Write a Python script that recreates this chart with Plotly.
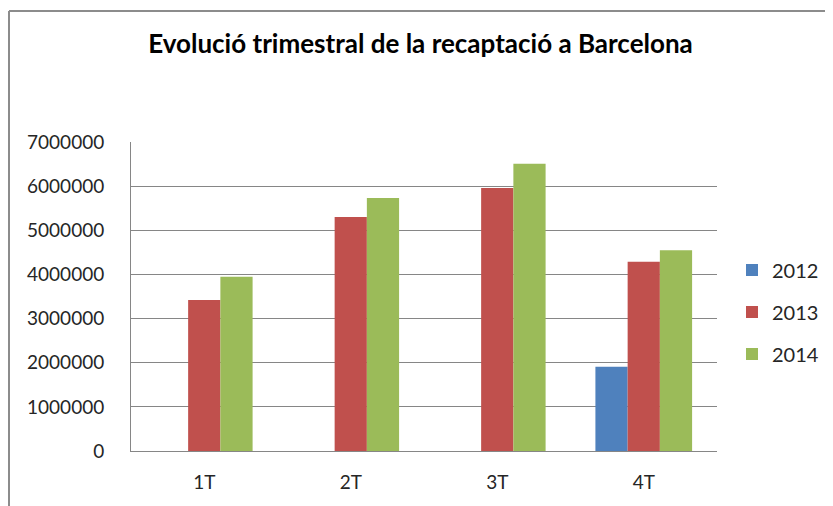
import plotly.graph_objects as go

categories = ["1T", "2T", "3T", "4T"]
series_names = ["2012", "2013", "2014"]
values_2012 = [None, None, None, 1910000]
values_2013 = [3420000, 5300000, 5960000, 4290000]
values_2014 = [3950000, 5730000, 6510000, 4550000]
y_ticks = [0, 1000000, 2000000, 3000000, 4000000, 5000000, 6000000, 7000000]
colors = ["#4F81BD", "#C0504D", "#9BBB59"]

FONT = "Lato, 'Open Sans', sans-serif"

fig = go.Figure()
for i, (name, vals) in enumerate(zip(series_names, [values_2012, values_2013, values_2014])):
    fig.add_trace(go.Bar(
        x=categories, y=vals, name=name, legendgroup=name,
        marker=dict(color=colors[i], line=dict(width=0)),
    ))

# the page body adds an 8px margin, so the figure is drawn 8px smaller
OFF = 8
W, H = 833 - OFF, 506 - OFF
ml, mr, mt, mb = 123, 116, 134, 55
pw = W - ml - mr
ph = H - mt - mb

def px_to_paper_x(px):  # px given in screen coordinates
    return (px - OFF - ml) / pw

def px_to_paper_y(py):
    return (H - mb - (py - OFF)) / ph

fig.update_layout(
    width=W, height=H,
    margin=dict(l=ml, r=mr, t=mt, b=mb, autoexpand=False),
    paper_bgcolor="white", plot_bgcolor="white",
    barmode="group", bargap=0.34, bargroupgap=0,
    title=dict(text="<b>Evolució trimestral de la recaptació a Barcelona</b>",
               x=0.5, xanchor="center", y=1 - 36 / H, yanchor="middle",
               font=dict(family=FONT, size=26, color="#000000")),
    font=dict(family=FONT, size=19, color="#262626"),
    showlegend=True,
    legend=dict(x=px_to_paper_x(732), xanchor="left",
                y=px_to_paper_y(312), yanchor="middle",
                traceorder="grouped", tracegroupgap=13,
                font=dict(family=FONT, size=20, color="#262626"),
                bgcolor="rgba(0,0,0,0)", itemwidth=30),
    xaxis=dict(showgrid=False, showline=True, linecolor="#868686", linewidth=1,
               ticks="", ticklabelstandoff=14,
               tickfont=dict(family=FONT, size=19, color="#262626")),
    yaxis=dict(range=[0, 7000000], tickvals=y_ticks,
               ticktext=[str(v) for v in y_ticks],
               showgrid=True, gridcolor="#868686", gridwidth=1,
               showline=True, linecolor="#868686", linewidth=1,
               zeroline=False, ticks="", ticklabelstandoff=22,
               tickfont=dict(family=FONT, size=19, color="#262626")),
)

# outer chart-area frame (top and left edges visible)
bx = px_to_paper_x(9)
by = px_to_paper_y(11)
fig.add_shape(type="line", xref="paper", yref="paper",
              x0=bx, y0=px_to_paper_y(520), x1=bx, y1=by,
              line=dict(color="#8C8C8C", width=2))
fig.add_shape(type="line", xref="paper", yref="paper",
              x0=bx, y0=by, x1=px_to_paper_x(850), y1=by,
              line=dict(color="#8C8C8C", width=2))

fig.write_html("out.html")
